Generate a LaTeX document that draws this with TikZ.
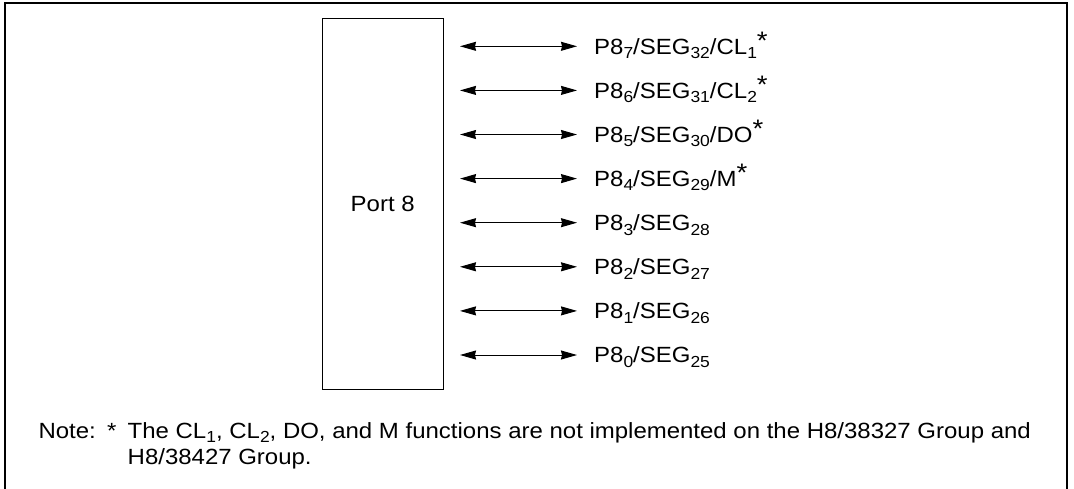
\documentclass[tikz,border=0pt]{standalone}
\usepackage{fontspec}
\setmainfont[FakeStretch=1.09]{Liberation Sans}
\usetikzlibrary{arrows.meta}
\newcommand\sbs[1]{\raisebox{-4.5pt}{\fontsize{16}{16}\selectfont #1}}
\newcommand\astr{\raisebox{5pt}{\scalebox{1.15}{*}}}
\begin{document}
\begin{tikzpicture}[x=1pt,y=-1pt,
  txt/.style={font=\fontsize{22}{27}\selectfont, inner sep=0pt, anchor=base west},
  frameline/.style={line width=2pt},
  portbox/.style={draw, line width=1pt, inner sep=0pt, anchor=north west,
    minimum width=121pt, minimum height=370.7pt, font=\fontsize{22}{27}\selectfont},
  bidir/.style={line width=1pt, {Stealth[length=16pt,width=9pt,inset=1pt]}-{Stealth[length=16pt,width=9pt,inset=1pt]}}]
\useasboundingbox (0,0) rectangle (1074,488);
% outer frame (open at bottom)
\coordinate (fbl) at (5,495);
\coordinate (ftl) at (5,3);
\coordinate (ftr) at (1066.5,3);
\coordinate (fbr) at (1066.5,495);
\draw[frameline] (fbl) -- (ftl) -- (ftr) -- (fbr);
% port box
\node[portbox] (port) at (321.7,18.3) {Port 8};
% rows
\foreach \i/\lab [count=\k from 0] in {
  7/{P8\sbs{7}/SEG\sbs{32}/CL\sbs{1}\astr},
  6/{P8\sbs{6}/SEG\sbs{31}/CL\sbs{2}\astr},
  5/{P8\sbs{5}/SEG\sbs{30}/DO\astr},
  4/{P8\sbs{4}/SEG\sbs{29}/M\astr},
  3/{P8\sbs{3}/SEG\sbs{28}},
  2/{P8\sbs{2}/SEG\sbs{27}},
  1/{P8\sbs{1}/SEG\sbs{26}},
  0/{P8\sbs{0}/SEG\sbs{25}}}{
  \pgfmathsetmacro\yy{46.3+44.1*\k}
  \coordinate (a\i) at (460,\yy);
  \coordinate (b\i) at (577,\yy);
  \node[txt] (l\i) at (594,\yy+7.8) {\lab};
  \draw[bidir] (a\i) -- (b\i);
}
% note
\node[txt] (note) at (38.3,438) {Note:};
\node[txt] (star) at (107,438) {*};
\node[txt] (note1) at (127.5,438) {The CL\sbs{1}, CL\sbs{2}, DO, and M functions are not implemented on the H8/38327 Group and};
\node[txt] (note2) at (127.5,464.5) {H8/38427 Group.};
\end{tikzpicture}
\end{document}
